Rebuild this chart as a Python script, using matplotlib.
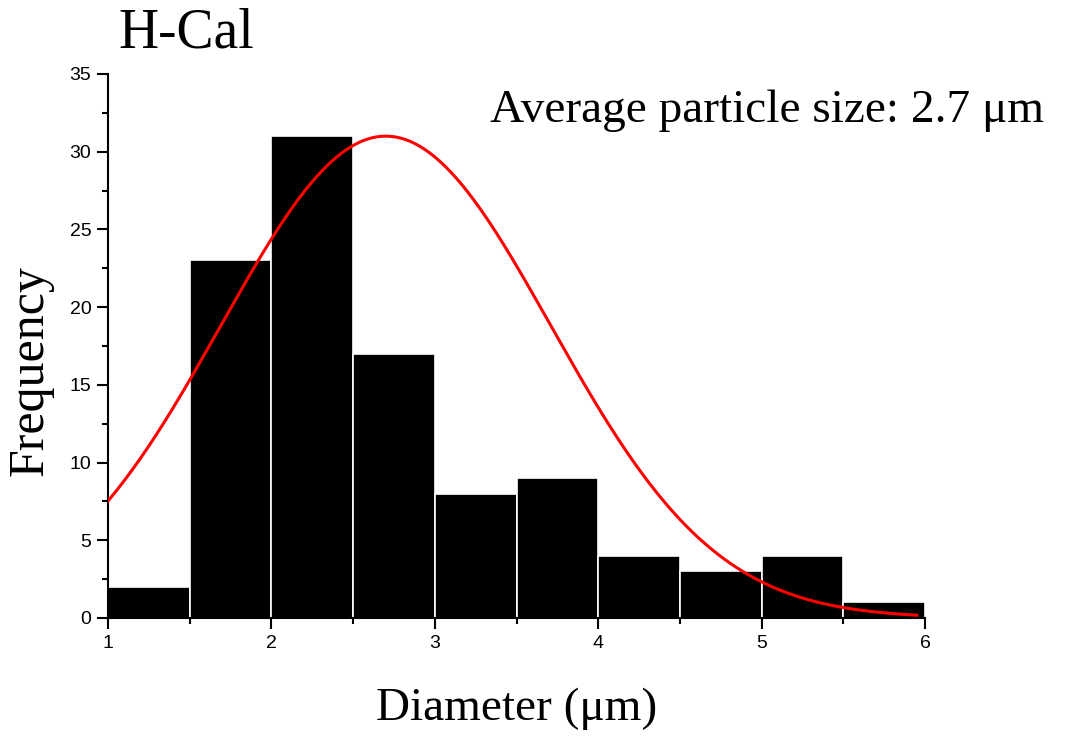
import numpy as np
import matplotlib.pyplot as plt

# histogram of particle diameters (bin width 0.5 um)
bin_edges = [1.0, 1.5, 2.0, 2.5, 3.0, 3.5, 4.0, 4.5, 5.0, 5.5, 6.0]
counts = [2, 23, 31, 17, 8, 9, 4, 3, 4, 1]

# gaussian fit parameters
fit_center = 2.7
fit_height = 31.0
fit_sigma = 1.01

serif = "Liberation Serif"
sans = "Liberation Sans"

fig = plt.figure(figsize=(10.83, 7.4), dpi=100)
ax = fig.add_axes([0.0997, 0.165, 0.7545, 0.735])

ax.bar(bin_edges[:-1], counts, width=np.diff(bin_edges), align="edge",
       color="black", edgecolor="white", linewidth=1.2, zorder=2)

xs = np.linspace(1.0, 5.95, 300)
ys = fit_height * np.exp(-(xs - fit_center) ** 2 / (2 * fit_sigma ** 2))
ax.plot(xs, ys, color="red", lw=2.2, zorder=3)

ax.set_xlim(1, 6)
ax.set_ylim(0, 35)
ax.set_xticks([1, 2, 3, 4, 5, 6])
ax.set_xticks(np.arange(1.5, 6, 1), minor=True)
ax.set_yticks(np.arange(0, 36, 5))
ax.set_yticks(np.arange(2.5, 35, 5), minor=True)
for s in ["top", "right"]:
    ax.spines[s].set_visible(False)
for s in ["left", "bottom"]:
    ax.spines[s].set_linewidth(1.5)
ax.tick_params(which="major", direction="out", length=8, width=1.5, labelsize=14, pad=4)
ax.tick_params(which="minor", direction="out", length=4.5, width=1.5)
for lab in ax.get_xticklabels() + ax.get_yticklabels():
    lab.set_fontfamily(sans)

ax.set_xlabel("Diameter (\u03bcm)", fontsize=34, family=serif, labelpad=26)
ax.set_ylabel("Frequency", fontsize=36, family=serif)
ax.yaxis.set_label_coords(-0.066, 0.454)

fig.text(0.109, 0.936, "H-Cal", fontsize=40, family=serif)
fig.text(0.452, 0.835, "Average particle size: 2.7 \u03bcm", fontsize=34, family=serif)

fig.savefig("out.png", dpi=100)
